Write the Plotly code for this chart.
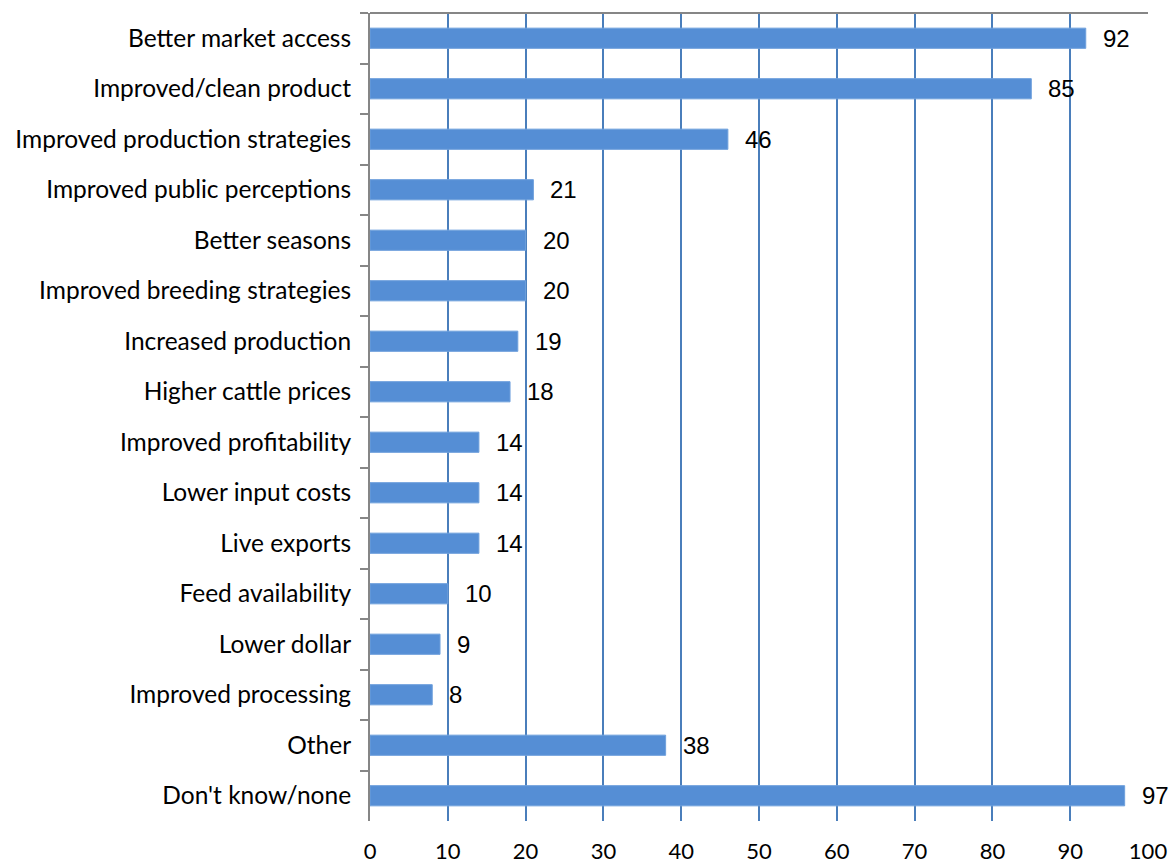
import plotly.graph_objects as go

# Survey responses: share of respondents (%) naming each factor
categories = [
    "Better market access",
    "Improved/clean product",
    "Improved production strategies",
    "Improved public perceptions",
    "Better seasons",
    "Improved breeding strategies",
    "Increased production",
    "Higher cattle prices",
    "Improved profitability",
    "Lower input costs",
    "Live exports",
    "Feed availability",
    "Lower dollar",
    "Improved processing",
    "Other",
    "Don't know/none",
]
values = [92, 85, 46, 21, 20, 20, 19, 18, 14, 14, 14, 10, 9, 8, 38, 97]
x_ticks = list(range(0, 101, 10))

BAR_COLOR = "#558ED5"
GRID_COLOR = "#4A7EBB"
AXIS_GRAY = "#868686"
LABEL_FONT = "Lato"
VALUE_FONT = "Liberation Sans"

fig = go.Figure(
    go.Bar(
        x=values,
        y=categories,
        orientation="h",
        marker=dict(color=BAR_COLOR, line=dict(color="#6FA0DC", width=1)),
        hoverinfo="x+y",
    )
)

# value labels to the right of each bar
for cat, val in zip(categories, values):
    fig.add_annotation(
        x=val, y=cat, xref="x", yref="y",
        text=str(val), showarrow=False,
        xanchor="left", yanchor="middle", xshift=15,
        font=dict(family=VALUE_FONT, size=24, color="#000000"),
    )

# gray frame line along the top of the plot area
fig.add_shape(
    type="line", xref="x domain", yref="y domain",
    x0=0, x1=1, y0=1, y1=1,
    line=dict(color=AXIS_GRAY, width=2),
)

fig.update_layout(
    width=1172, height=866, autosize=False,
    margin=dict(l=370, r=24, t=13, b=45),
    paper_bgcolor="white", plot_bgcolor="white",
    bargap=0.6, showlegend=False,
    font=dict(family=LABEL_FONT, size=24, color="#000000"),
)

fig.update_xaxes(
    range=[0, 100], tickvals=x_ticks, ticktext=[str(t) for t in x_ticks],
    showgrid=True, gridcolor=GRID_COLOR, gridwidth=1.5,
    zeroline=False, showline=False, ticks="",
    ticklabelstandoff=15, automargin=False,
    tickfont=dict(family=LABEL_FONT, size=22, color="#000000"),
    fixedrange=True,
)

fig.update_yaxes(
    autorange="reversed", categoryorder="array", categoryarray=categories,
    showline=True, linecolor=AXIS_GRAY, linewidth=2,
    ticks="outside", tickson="boundaries", ticklen=8, tickwidth=2,
    tickcolor=AXIS_GRAY, ticklabelstandoff=12, automargin=False,
    showgrid=False, zeroline=False,
    tickfont=dict(family=LABEL_FONT, size=24.5, color="#000000"),
    fixedrange=True,
)

fig.write_html("out.html")
